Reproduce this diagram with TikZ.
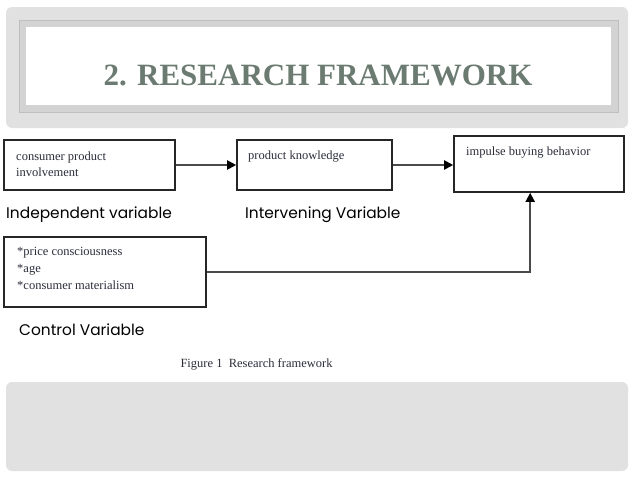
\documentclass[tikz,border=0pt]{standalone}
\usepackage{fontspec}
\setmainfont{Liberation Serif}
\newfontfamily\gothic{Poppins}
\usetikzlibrary{arrows.meta}

\definecolor{panelgray}{HTML}{E1E1E1}
\definecolor{framegray}{HTML}{D3D3D3}
\definecolor{titlegreen}{HTML}{6B7B71}
\definecolor{inkgray}{HTML}{4A4A4A}
\definecolor{boxink}{HTML}{2B2D3A}

\tikzset{
  varbox/.style={draw=black!85, line width=1.6pt, minimum height=50pt, inner sep=0pt},
  boxtext/.style={anchor=north west, inner sep=0pt, align=left, text=boxink,
    font=\fontsize{12.5}{16}\selectfont},
  vartag/.style={anchor=base west, inner sep=0pt, font=\gothic\fontsize{15.4}{18}\selectfont},
  link/.style={->, line width=1.9pt, draw=inkgray},
}

\begin{document}
\begin{tikzpicture}[x=1pt, y=-1pt, >={Stealth[length=9pt,width=9pt,inset=0pt,black]}]
    \useasboundingbox (0,0) rectangle (638,479);
    % slide background
    \fill[panelgray, rounded corners=6pt] (6,7) rectangle (628,128);
    \fill[panelgray, rounded corners=6pt] (6,382) rectangle (628,471);
    \draw[framegray, line width=7pt, fill=white] (22.5,23.5) rectangle (614.5,108.5);
    \draw[black!25, line width=0.6pt] (19,20) rectangle (618,112);
    \node[anchor=base, text=titlegreen, font=\bfseries\fontsize{31}{36}\selectfont] (title) at (318,85) {2. RESEARCH FRAMEWORK};

    % the four variables
    \node[varbox, minimum width=171pt] (cpi) at (89.5,165) {};
    \node[varbox, minimum width=155pt] (pk) at (314.5,165) {};
    \node[varbox, minimum width=170pt, minimum height=56pt] (ibb) at (539,164) {};
    \node[varbox, minimum width=202pt, minimum height=70pt] (ctrl) at (105,272) {};
    \node[boxtext] (cpitext) at (16,152) {consumer product\\involvement};
    \node[boxtext] (pktext) at (248,151) {product knowledge};
    \node[boxtext] (ibbtext) at (466,147) {impulse buying behavior};
    \node[boxtext, font=\fontsize{12.5}{17}\selectfont] (ctrltext) at (17,247) {*price consciousness\\*age\\*consumer materialism};

    \node[vartag] (indep) at (6,218) {Independent variable};
    \node[vartag] (interv) at (245,218) {Intervening Variable};
    \node[vartag] (ctrltag) at (19,335) {Control Variable};
    \node[anchor=base west, text=boxink, font=\fontsize{12.5}{15}\selectfont] (caption) at (177,367) {Figure 1\ \ Research framework};

    % links
    \draw[link] (cpi) -- (pk);
    \draw[link] (pk) -- (pk -| ibb.west);
    \draw[link] (ctrl.east) -| ([xshift=77pt]ibb.south west);
\end{tikzpicture}
\end{document}
